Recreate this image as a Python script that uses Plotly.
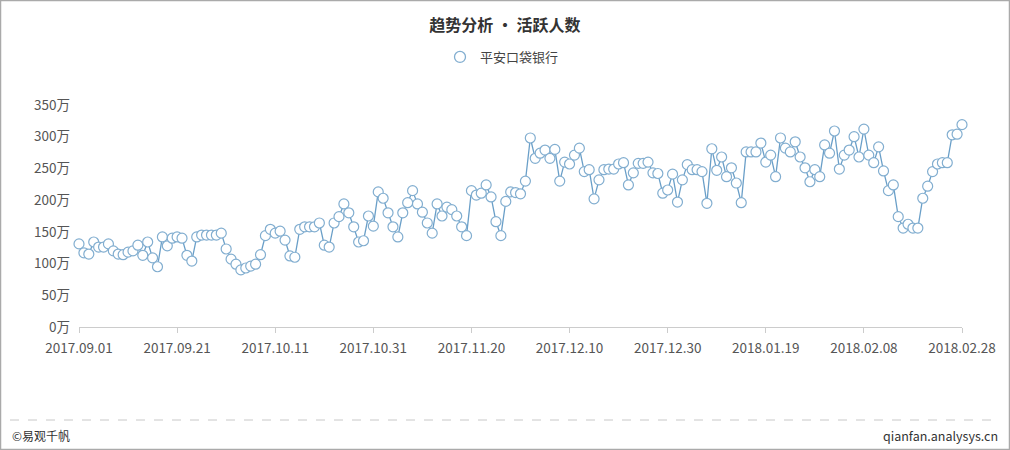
import pandas as pd
import plotly.graph_objects as go

start_date = "2017-09-01"
end_date = "2018-02-28"
series_name = "平安口袋银行"
title_text = "<b>趋势分析 • 活跃人数</b>"

# 活跃人数 (万), daily from 2017-09-01 to 2018-02-28
active_users = [
    131, 117, 115, 134, 126, 126, 131, 120, 115, 114,
    118, 120, 129, 113, 134, 109, 95, 142, 128, 140,
    142, 140, 113, 104, 142, 145, 145, 145, 145, 148,
    123, 107, 99, 90, 93, 96, 99, 114, 144, 154,
    148, 151, 137, 112, 110, 154, 158, 158, 158, 164,
    129, 126, 164, 174, 194, 180, 158, 134, 136, 175,
    159, 213, 203, 180, 158, 142, 180, 196, 215, 194,
    181, 164, 148, 194, 175, 189, 185, 175, 158, 144,
    215, 208, 211, 224, 205, 166, 144, 198, 213, 212,
    210, 230, 298, 266, 274, 279, 266, 280, 230, 260,
    257, 271, 282, 245, 248, 202, 232, 248, 249, 249,
    257, 259, 224, 243, 258, 258, 260, 243, 242, 211,
    216, 241, 197, 232, 256, 248, 248, 245, 195, 281,
    247, 268, 237, 251, 227, 196, 276, 276, 276, 290,
    260, 271, 237, 298, 282, 276, 292, 268, 251, 229,
    248, 237, 287, 274, 309, 249, 271, 279, 300, 268,
    312, 271, 259, 284, 246, 215, 224, 174, 156, 162,
    156, 156, 203, 222, 245, 257, 259, 259, 303, 304,
    319,
]
dates = pd.date_range(start_date, end_date, freq="D")
tick_dates = pd.date_range(start_date, end_date, freq="20D")
tick_labels = [d.strftime("%Y.%m.%d") for d in tick_dates]
y_ticks = [0, 50, 100, 150, 200, 250, 300, 350]
y_labels = [f"{v}万" for v in y_ticks]

font_family = "Noto Sans CJK SC, Noto Sans, sans-serif"
line_color = "#6a9fc8"
marker_edge = "#82aed0"

fig = go.Figure()
fig.add_trace(go.Scatter(
    x=dates, y=active_users, name=series_name, mode="lines+markers",
    line=dict(color=line_color, width=1.3),
    marker=dict(symbol="circle", size=10, color="#ffffff",
                line=dict(color=marker_edge, width=1.2)),
    cliponaxis=False, showlegend=False,
))
# legend entry: marker only
fig.add_trace(go.Scatter(
    x=[None], y=[None], name=series_name, mode="markers",
    marker=dict(symbol="circle", size=11, color="#ffffff",
                line=dict(color=marker_edge, width=1.3)),
    showlegend=True,
))

L, R, T, B = 79, 48, 105, 123
W, H = 1010, 450
pw, ph = W - L - R, H - T - B


def px_x(px):
    return (px - L) / pw


def px_y(py):
    return (H - B - py) / ph


fig.update_layout(
    width=W, height=H,
    margin=dict(l=L, r=R, t=T, b=B),
    paper_bgcolor="white", plot_bgcolor="white",
    font=dict(family=font_family, size=12, color="#555555"),
    title=dict(text=title_text, x=0.5, xanchor="center", y=1 - 25 / H,
               yanchor="middle", font=dict(size=16, color="#333333")),
    showlegend=True,
    legend=dict(orientation="h", x=px_x(502), xanchor="center", y=px_y(57),
                yanchor="middle", font=dict(size=13, color="#444444"),
                itemwidth=30),
    xaxis=dict(
        type="date", range=[dates[0], dates[-1]],
        tickvals=list(tick_dates), ticktext=tick_labels,
        showgrid=False, zeroline=False,
        showline=True, linecolor="#cccccc", linewidth=1,
        ticks="outside", ticklen=5, tickcolor="#cccccc",
        ticklabelstandoff=4,
        tickfont=dict(size=13.5, color="#555555"),
    ),
    yaxis=dict(
        range=[0, 350], tickvals=y_ticks, ticktext=y_labels,
        showgrid=False, zeroline=False, showline=False,
        ticks="", ticklabelstandoff=8,
        tickfont=dict(size=13.5, color="#555555"),
    ),
    shapes=[
        dict(type="line", xref="paper", yref="paper",
             x0=px_x(10), x1=px_x(1000), y0=px_y(420), y1=px_y(420),
             line=dict(color="#c8c8c8", width=1, dash="dash")),
        dict(type="rect", xref="paper", yref="paper",
             x0=px_x(0.5), x1=px_x(1009.5), y0=px_y(449.5), y1=px_y(0.5),
             line=dict(color="#aaaaaa", width=1.5)),
    ],
    annotations=[
        dict(text="©易观千帆", xref="paper", yref="paper", x=px_x(10),
             y=px_y(435), xanchor="left", yanchor="middle", showarrow=False,
             font=dict(size=12, color="#333333")),
        dict(text="qianfan.analysys.cn", xref="paper", yref="paper",
             x=px_x(1000), y=px_y(435), xanchor="right", yanchor="middle",
             showarrow=False, font=dict(size=12.5, color="#333333")),
    ],
)

fig.write_html(
    "out.html",
    config={"displayModeBar": False},
    post_script="document.body.style.margin='0';document.body.style.overflow='hidden';",
)
